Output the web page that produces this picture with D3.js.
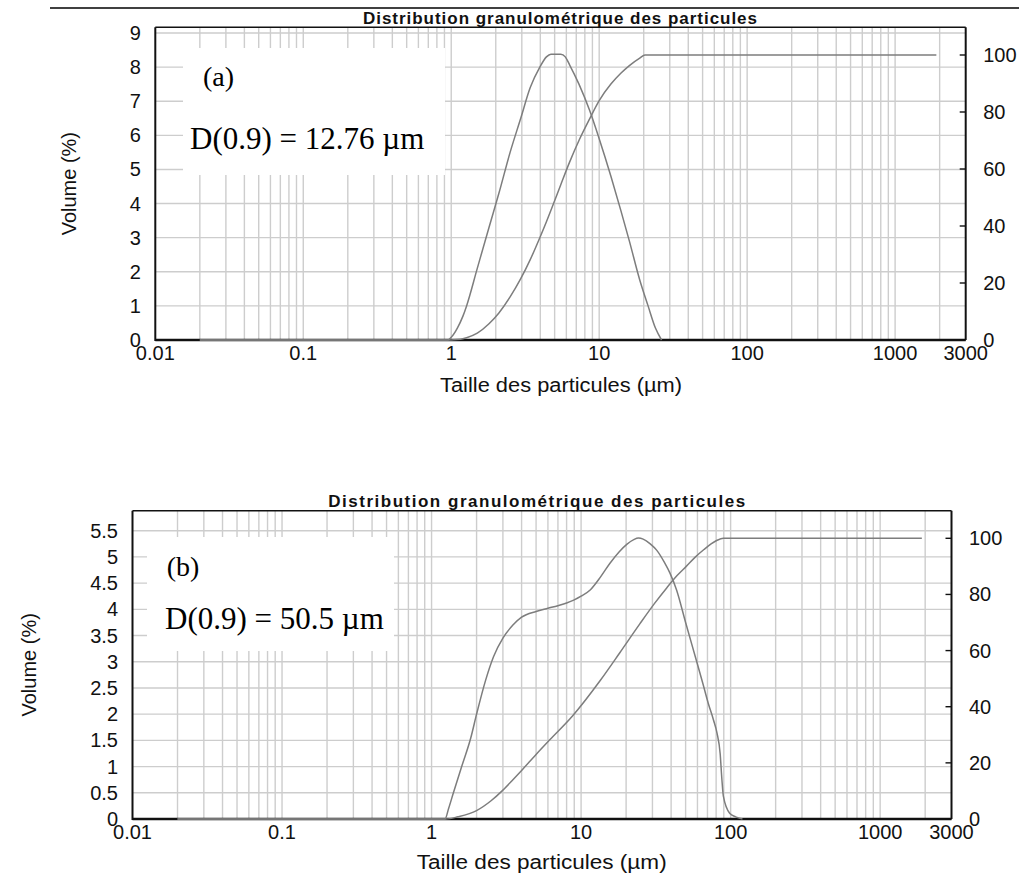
<!DOCTYPE html>
<html><head><meta charset="utf-8">
<script src="https://cdn.jsdelivr.net/npm/d3@7"></script>
<style>body{margin:0;background:#fff}svg{display:block}</style>
</head><body>
<svg id="c" width="1019" height="874"></svg>
<script>
// ---- shared labels / ticks ----
const xTickVals = [0.01, 0.1, 1, 10, 100, 1000, 3000];
const xTickLabels = ["0.01", "0.1", "1", "10", "100", "1000", "3000"];
const yTicksA = [0, 1, 2, 3, 4, 5, 6, 7, 8, 9];
const yTicksB = [0, 0.5, 1, 1.5, 2, 2.5, 3, 3.5, 4, 4.5, 5, 5.5];
const cumTicks = [0, 20, 40, 60, 80, 100];
const titleText = "Distribution granulométrique des particules";
const xTitle = "Taille des particules (µm)";
const yTitle = "Volume (%)";
const tagA = "(a)", noteA = "D(0.9) = 12.76 µm";
const tagB = "(b)", noteB = "D(0.9) = 50.5 µm";

// ---- (a) frequency (Volume %) ----
const sizeFreqA = [0.02, 0.5, 0.95, 1.0, 1.1, 1.2, 1.27, 1.5, 1.8, 2.1, 2.5, 2.95, 3.42, 3.97, 4.4, 4.72, 5.5, 5.9, 6.32, 7.3, 8.6, 10, 12, 14, 16, 18.8, 21.4, 24, 26.4];
const volFreqA  = [0, 0, 0, 0.08, 0.35, 0.7, 1.0, 2.1, 3.3, 4.3, 5.5, 6.5, 7.4, 8.0, 8.3, 8.38, 8.38, 8.3, 8.06, 7.5, 6.74, 5.9, 4.8, 3.8, 2.9, 1.76, 1.0, 0.35, 0];
// ---- (a) cumulative (%) ----
const sizeCumA = [0.02, 1.0, 1.1, 1.2, 1.27, 1.5, 1.8, 2.1, 2.5, 2.95, 3.42, 3.97, 4.4, 4.72, 5.5, 6.32, 7.3, 8.6, 10, 12, 14, 16, 18.8, 20.4, 1900];
const volCumA  = [0, 0, 0.15, 0.45, 0.8, 2.4, 5.7, 9.5, 15.1, 21.5, 28.2, 35.9, 41.5, 45.5, 54.5, 62.5, 70, 77.5, 84, 89.8, 93.6, 96.3, 98.9, 100, 100];

// ---- (b) frequency (Volume %) ----
const sizeFreqB = [0.02, 0.5, 1.23, 1.3, 1.4, 1.59, 1.83, 2.0, 2.3, 2.6, 3.0, 3.5, 4.0, 5, 6, 7, 8, 9, 10, 11.5, 13.5, 15.6, 18, 20.2, 22.5, 24.2, 26, 29, 32, 36, 39.3, 43.5, 50, 58, 65, 71, 76.8, 81.1, 85.1, 87.5, 89.5, 98.5, 108, 120];
const volFreqB  = [0, 0, 0, 0.2, 0.5, 1.0, 1.55, 2.0, 2.65, 3.1, 3.45, 3.7, 3.85, 3.96, 4.02, 4.07, 4.12, 4.18, 4.25, 4.37, 4.62, 4.88, 5.1, 5.24, 5.33, 5.36, 5.34, 5.25, 5.13, 4.9, 4.69, 4.37, 3.75, 3.1, 2.6, 2.2, 1.89, 1.64, 1.25, 0.74, 0.43, 0.11, 0.04, 0];
// ---- (b) cumulative (%) ----
const sizeCumB = [0.02, 1.25, 1.5, 2.0, 2.5, 3.0, 3.5, 4.0, 5, 6.2, 8.7, 13.5, 18.2, 24.7, 31, 37.6, 44, 50.5, 58, 66.3, 74, 81.2, 89.5, 1900];
const volCumB  = [0, 0, 0.8, 3, 6.5, 10.3, 14, 17.3, 23, 28.3, 36.5, 49.5, 59.3, 69.5, 76.8, 82.5, 86.8, 90, 93.3, 96, 98, 99.3, 100, 100];

// gridline positions: 1..9 x each decade, from 0.02 to 2000
const gridX = [];
for (let e = -2; e <= 3; e++) for (let m = 1; m <= 9; m++) {
  const v = m * Math.pow(10, e);
  if (v > 0.011 && v <= 2000.5) gridX.push(+v.toPrecision(3));
}

const svg = d3.select("#c");
const SANS = "'Liberation Sans', Arial, sans-serif";
const SERIF = "'Liberation Serif', 'Times New Roman', serif";

// separator line at very top
svg.append("line").attr("x1", 50).attr("x2", 1019).attr("y1", 8).attr("y2", 8)
  .attr("stroke", "#000").attr("stroke-width", 1.3);

function panel(cfg) {
  const g = svg.append("g");
  const x = d3.scaleLog().domain([0.01, 3000]).range([cfg.left, cfg.right]);
  const y = d3.scaleLinear().domain([0, cfg.yTop]).range([cfg.bottom, cfg.yTopPx]);
  const y2 = d3.scaleLinear().domain([0, 100]).range([cfg.bottom, cfg.y100Px]);

  // grid
  const grid = g.append("g").attr("stroke", "#cdcdcd").attr("stroke-width", 1.4);
  grid.selectAll("line.v").data(gridX).join("line")
    .attr("x1", d => x(d)).attr("x2", d => x(d))
    .attr("y1", cfg.top).attr("y2", cfg.bottom);
  grid.selectAll("line.h").data(cfg.yTicks.filter(d => d > 0)).join("line")
    .attr("x1", cfg.left).attr("x2", cfg.right)
    .attr("y1", d => y(d)).attr("y2", d => y(d));

  // white annotation box
  g.append("rect").attr("x", cfg.box[0]).attr("y", cfg.box[1])
    .attr("width", cfg.box[2] - cfg.box[0]).attr("height", cfg.box[3] - cfg.box[1])
    .attr("fill", "#fff");

  // bottom axis line (curves drawn on top of it)
  g.append("line").attr("x1", cfg.left).attr("x2", cfg.right).attr("y1", cfg.bottom).attr("y2", cfg.bottom)
    .attr("stroke", "#111").attr("stroke-width", 2.4);

  // curves
  const lineF = d3.line().x(d => x(d[0])).y(d => y(d[1])).curve(d3.curveMonotoneX);
  const lineC = d3.line().x(d => x(d[0])).y(d => y2(d[1])).curve(d3.curveMonotoneX);
  g.append("path").datum(d3.zip(cfg.sizeF, cfg.volF)).attr("d", lineF)
    .attr("fill", "none").attr("stroke", "#7d7d7d").attr("stroke-width", 1.5);
  g.append("path").datum(d3.zip(cfg.sizeC, cfg.volC)).attr("d", lineC)
    .attr("fill", "none").attr("stroke", "#7d7d7d").attr("stroke-width", 1.5);

  // frame
  g.append("line").attr("x1", cfg.left).attr("x2", cfg.right).attr("y1", cfg.top).attr("y2", cfg.top)
    .attr("stroke", "#111").attr("stroke-width", 1.6);
  g.append("line").attr("x1", cfg.right).attr("x2", cfg.right).attr("y1", cfg.top).attr("y2", cfg.bottom)
    .attr("stroke", "#111").attr("stroke-width", 2);
  g.append("line").attr("x1", cfg.left).attr("x2", cfg.left).attr("y1", cfg.top).attr("y2", cfg.bottom + 1)
    .attr("stroke", "#111").attr("stroke-width", 2);

  // right ticks (inward)
  g.selectAll("line.rt").data(cumTicks).join("line")
    .attr("x1", cfg.right - 6).attr("x2", cfg.right)
    .attr("y1", d => y2(d)).attr("y2", d => y2(d))
    .attr("stroke", "#111").attr("stroke-width", 1.4);

  // tick labels
  const tl = g.append("g").attr("font-family", SANS).attr("font-size", 20).attr("fill", "#111");
  tl.selectAll("text.x").data(xTickVals).join("text")
    .attr("x", d => x(d)).attr("y", cfg.bottom + 20).attr("text-anchor", "middle")
    .text((d, i) => xTickLabels[i]);
  tl.selectAll("text.y").data(cfg.yTicks).join("text")
    .attr("x", cfg.left - 14.5).attr("y", d => y(d)).attr("dy", "0.35em").attr("text-anchor", "end")
    .text(d => String(d));
  tl.selectAll("text.r").data(cumTicks).join("text")
    .attr("x", cfg.right + 17.5).attr("y", d => y2(d)).attr("dy", "0.35em").attr("text-anchor", "start")
    .text(d => String(d));

  // titles
  g.append("text").attr("x", cfg.titleX).attr("y", cfg.titleY).attr("text-anchor", "middle")
    .attr("font-family", SANS).attr("font-weight", "bold").attr("font-size", 17)
    .attr("textLength", cfg.titleW).attr("lengthAdjust", "spacing").attr("fill", "#111").text(titleText);
  g.append("text").attr("x", cfg.xTitleX).attr("y", cfg.xTitleY).attr("text-anchor", "middle")
    .attr("font-family", SANS).attr("font-size", 20).attr("textLength", cfg.xTitleW)
    .attr("lengthAdjust", "spacingAndGlyphs").attr("fill", "#111").text(xTitle);
  g.append("text").attr("transform", `translate(${cfg.yTitleX},${(cfg.top + cfg.bottom) / 2}) rotate(-90)`)
    .attr("text-anchor", "middle").attr("font-family", SANS).attr("font-size", 20)
    .attr("fill", "#111").text(yTitle);

  // annotations
  g.append("text").attr("x", cfg.tagPos[0]).attr("y", cfg.tagPos[1]).attr("font-family", SERIF)
    .attr("font-size", 28).attr("fill", "#000").text(cfg.tag);
  g.append("text").attr("x", cfg.notePos[0]).attr("y", cfg.notePos[1]).attr("font-family", SERIF)
    .attr("font-size", 31).attr("fill", "#000").text(cfg.note);
}

panel({
  left: 155.3, right: 965.7, top: 27.3, bottom: 340,
  yTop: 9, yTopPx: 33, y100Px: 55, yTicks: yTicksA,
  sizeF: sizeFreqA, volF: volFreqA, sizeC: sizeCumA, volC: volCumA,
  box: [183, 48, 445, 175],
  titleX: 560, titleY: 24, titleW: 394,
  xTitleX: 561, xTitleY: 392, xTitleW: 242, yTitleX: 76,
  tag: tagA, tagPos: [203, 86], note: noteA, notePos: [190, 149]
});
panel({
  left: 132.5, right: 951.5, top: 510.7, bottom: 819,
  yTop: 5.5, yTopPx: 530.7, y100Px: 538.3, yTicks: yTicksB,
  sizeF: sizeFreqB, volF: volFreqB, sizeC: sizeCumB, volC: volCumB,
  box: [147, 537, 394, 651],
  titleX: 536.7, titleY: 506.7, titleW: 417,
  xTitleX: 541.7, xTitleY: 869, xTitleW: 250, yTitleX: 36,
  tag: tagB, tagPos: [166.7, 576], note: noteB, notePos: [165, 629]
});
</script>
</body></html>
